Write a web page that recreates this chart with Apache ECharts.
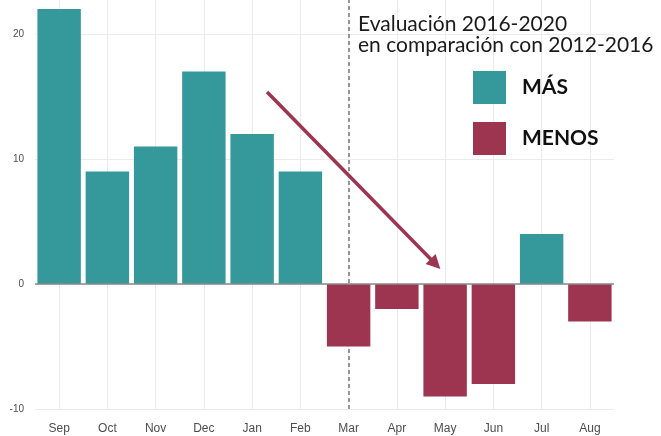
<!DOCTYPE html>
<html lang="es">
<head>
	<meta charset="UTF-8">
	<title>Evaluación 2016-2020</title>
	<script src="https://cdn.jsdelivr.net/npm/echarts@6.0.0/dist/echarts.min.js"></script>
	<style>
		html, body { margin: 0; padding: 0; background: #fff; }
	</style>
</head>
<body>
	<div id="main" style="width: 661px;height: 436px"></div>
	<script>
		// meses y diferencia respecto al periodo anterior
		var months = ['Sep', 'Oct', 'Nov', 'Dec', 'Jan', 'Feb', 'Mar', 'Apr', 'May', 'Jun', 'Jul', 'Aug'];
		var diff = [22, 9, 11, 17, 12, 9, -5, -2, -9, -8, 4, -3];
		var yTicks = [-10, 0, 10, 20];

		// flecha: inicio y fin en unidades de datos (índice de mes, valor)
		var arrowFrom = [4.31, 15.36];
		var arrowTo = [7.8, 1.6];

		var teal = '#35999b';
		var maroon = '#9d3450';

		var mas = diff.map(function (v) { return v >= 0 ? v : '-'; });
		var menos = diff.map(function (v) { return v < 0 ? v : '-'; });

		var myChart = echarts.init(document.getElementById('main'));
		var option = {
			backgroundColor: '#fff',
			animation: false,
			title: {
				text: 'Evaluación 2016-2020\nen comparación con 2012-2016',
				left: 353,
				top: 9,
				textStyle: {
					fontFamily: 'Lato',
					fontSize: 21,
					fontWeight: 'normal',
					lineHeight: 21,
					color: '#1a1a1a'
				}
			},
			legend: {
				data: ['MÁS', 'MENOS'],
				orient: 'vertical',
				left: 468,
				top: 66,
				itemWidth: 33,
				itemHeight: 33,
				itemGap: 18,
				icon: 'rect',
				textStyle: {
					fontFamily: 'Lato',
					fontSize: 21,
					fontWeight: 'bold',
					color: '#111',
					padding: [0, 0, 0, 11]
				}
			},
			grid: {
				left: 35,
				right: 47,
				top: 0,
				bottom: 27
			},
			xAxis: [
				{
					type: 'category',
					data: months,
					axisLine: { show: false },
					axisTick: { show: false },
					axisLabel: {
						fontFamily: 'Liberation Sans',
						fontSize: 12,
						color: '#4d4d4d',
						margin: 14
					},
					splitLine: {
						show: true,
						alignWithLabel: true,
						lineStyle: { color: '#ebebeb', width: 1 }
					}
				},
				{
					// eje oculto para ubicar la flecha en posiciones intermedias
					type: 'value',
					show: false,
					min: -0.5,
					max: months.length - 0.5
				}
			],
			yAxis: {
				type: 'value',
				min: -10,
				max: 22.72,
				interval: 10,
				axisLine: { show: false },
				axisTick: { show: false },
				axisLabel: {
					fontFamily: 'Liberation Sans',
					fontSize: 10,
					color: '#4d4d4d',
					margin: 11,
					formatter: function (v) { return yTicks.indexOf(v) >= 0 ? v : ''; }
				},
				splitLine: { lineStyle: { color: ['#ebebeb', '#ebebeb', '#ebebeb', '#ebebeb', 'rgba(0,0,0,0)'], width: 1 } }
			},
			series: [
				{
					// línea punteada en marzo, por debajo de las barras
					type: 'line',
					data: [],
					silent: true,
					markLine: {
						z: 1,
						silent: true,
						symbol: 'none',
						label: { show: false },
						lineStyle: { color: '#777', type: [4, 3], width: 1.5 },
						data: [{ xAxis: 'Mar' }]
					}
				},
				{
					name: 'MÁS',
					type: 'bar',
					data: mas,
					barWidth: '90%',
					barGap: '-100%',
					itemStyle: { color: teal }
				},
				{
					name: 'MENOS',
					type: 'bar',
					data: menos,
					barWidth: '90%',
					barGap: '-100%',
					itemStyle: { color: maroon },
					markLine: {
						silent: true,
						symbol: 'none',
						label: { show: false },
						lineStyle: { color: '#8a8a8a', type: 'solid', width: 1.5 },
						data: [{ yAxis: 0 }]
					}
				},
				{
					// flecha
					type: 'line',
					xAxisIndex: 1,
					data: [],
					silent: true,
					markLine: {
						silent: true,
						symbol: ['none', 'triangle'],
						symbolSize: [14, 14],
						label: { show: false },
						lineStyle: { color: maroon, type: 'solid', width: 3.5 },
						data: [[{ coord: arrowFrom }, { coord: arrowTo }]]
					}
				}
			]
		};

		myChart.setOption(option);
	</script>
</body>
</html>
